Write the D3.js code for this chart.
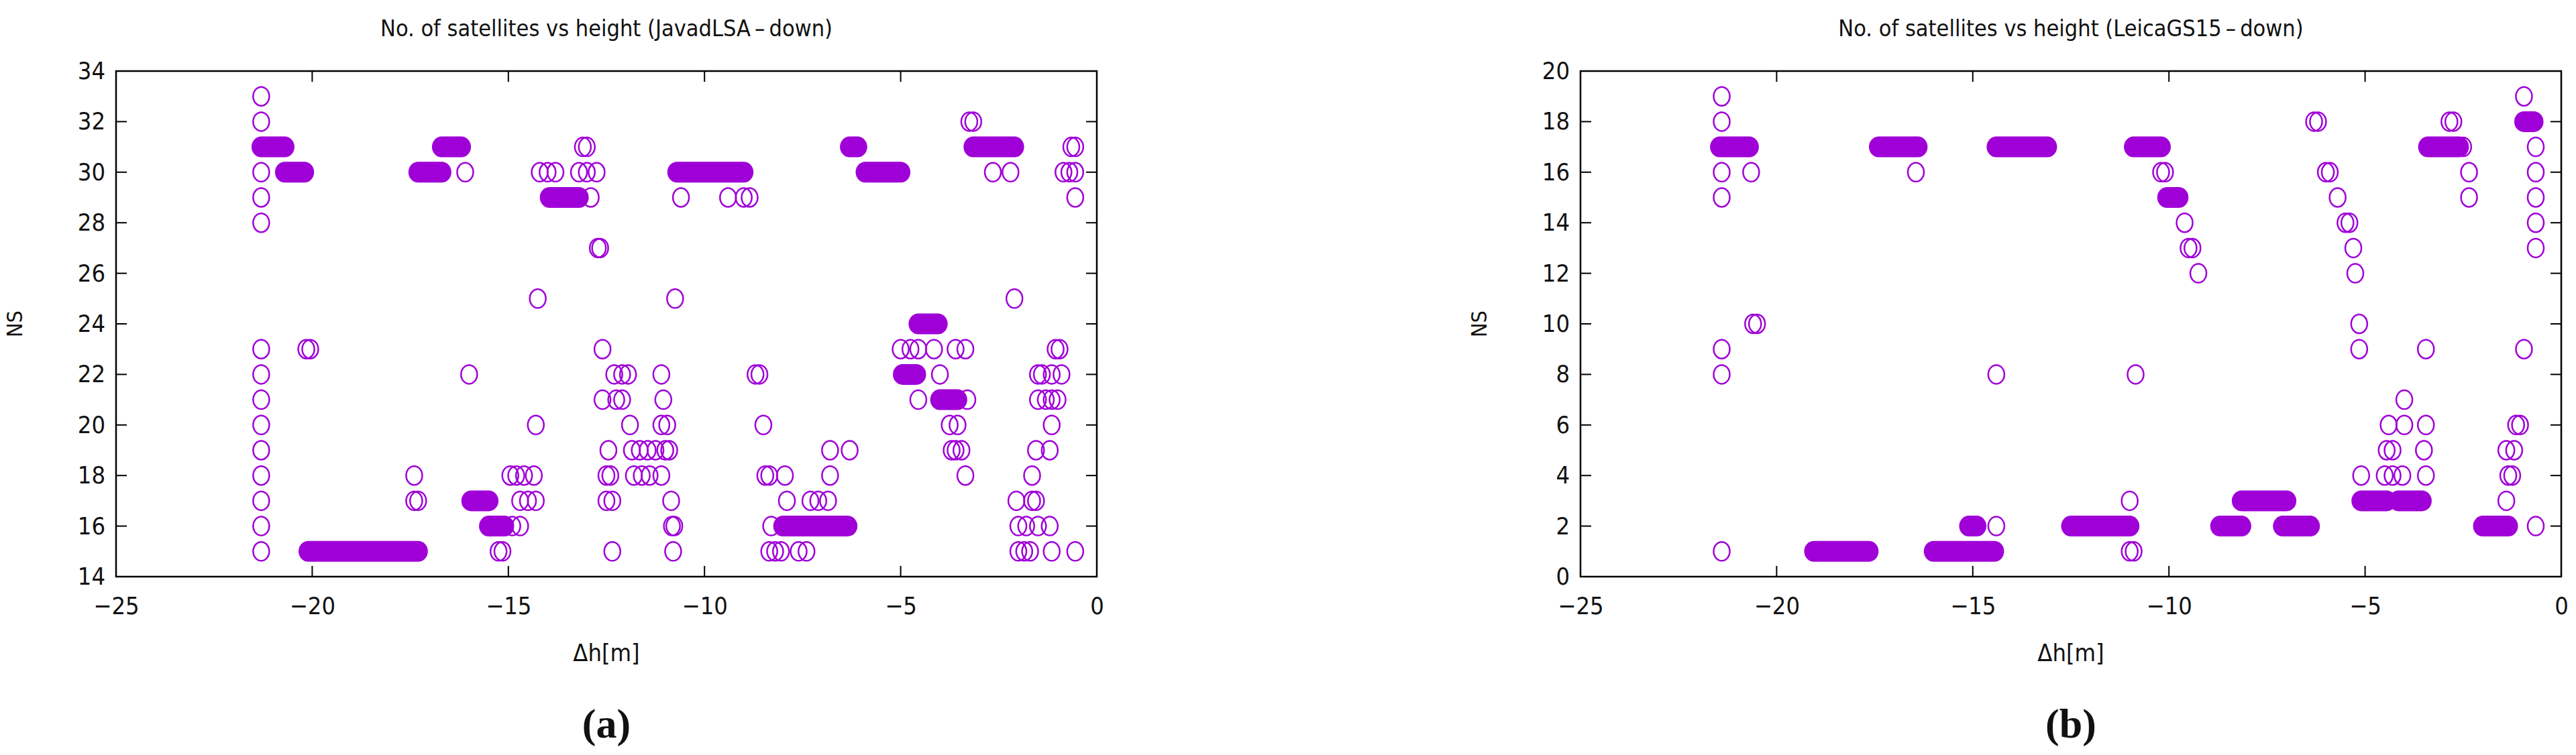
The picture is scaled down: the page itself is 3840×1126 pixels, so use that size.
<!DOCTYPE html>
<html>
<head>
<meta charset="utf-8">
<script src="https://cdn.jsdelivr.net/npm/d3@7"></script>
<style>
body{margin:0;background:#fff;}
text{font-family:"DejaVu Sans Condensed","DejaVu Sans",sans-serif;font-stretch:condensed;fill:#111;}
</style>
</head>
<body>
<svg id="chart" width="3840" height="1126"></svg>
<script>
// tick labels
var xTicks = [-25,-20,-15,-10,-5,0];
var yTicksA = [14,16,18,20,22,24,26,28,30,32,34];
var yTicksB = [0,2,4,6,8,10,12,14,16,18,20];

// single observations [dh, NS] - JavadLSA
var pointsA = [
 [-21.3,33],[-21.3,32],[-21.3,30],[-21.3,29],[-21.3,28],[-21.3,23],[-21.3,22],[-21.3,21],[-21.3,20],[-21.3,19],[-21.3,18],[-21.3,17],[-21.3,16],[-21.3,15],
 [-20.15,23],[-20.05,23],[-17.4,18],[-17.4,17],[-17.3,17],[-16.1,30],[-16.0,22],
 [-14.9,16],[-14.7,16],[-15.25,15],[-15.15,15],
 [-14.95,18],[-14.8,18],[-14.6,18],[-14.35,18],[-14.7,17],[-14.5,17],[-14.3,17],
 [-14.2,30],[-14.0,30],[-13.8,30],[-12.9,29],[-13.1,31],[-13.0,31],[-13.2,30],[-13.0,30],[-12.75,30],
 [-14.3,20],[-14.25,25],[-12.72,27],[-12.66,27],[-12.6,23],
 [-12.3,22],[-12.1,22],[-11.95,22],[-12.6,21],[-12.25,21],[-12.1,21],[-11.9,20],
 [-12.45,19],[-11.85,19],[-11.65,19],[-11.45,19],[-11.25,19],[-11.0,19],[-10.9,19],
 [-12.5,18],[-12.4,18],[-11.8,18],[-11.6,18],[-11.4,18],[-11.1,18],
 [-12.5,17],[-12.35,17],[-10.85,17],[-12.35,15],[-10.8,15],
 [-11.1,22],[-11.05,21],[-11.1,20],[-10.95,20],[-10.83,16],[-10.77,16],[-10.75,25],
 [-10.6,29],[-9.4,29],[-9.0,29],[-8.85,29],[-8.7,22],[-8.6,22],[-8.5,20],
 [-8.45,18],[-8.35,18],[-7.95,18],[-7.9,17],[-7.3,17],[-7.1,17],[-6.85,17],[-8.3,16],
 [-8.35,15],[-8.2,15],[-8.05,15],[-7.6,15],[-7.4,15],[-6.8,19],[-6.3,19],[-6.8,18],
 [-5.0,23],[-4.75,23],[-4.55,23],[-4.15,23],[-3.6,23],[-3.35,23],[-4.0,22],
 [-4.55,21],[-3.3,21],[-3.75,20],[-3.55,20],[-3.7,19],[-3.6,19],[-3.45,19],[-3.35,18],
 [-3.25,32],[-3.15,32],[-2.65,30],[-2.2,30],[-2.1,25],
 [-0.65,31],[-0.55,31],[-0.85,30],[-0.7,30],[-0.55,30],[-0.55,29],[-1.05,23],[-0.95,23],
 [-1.5,22],[-1.4,22],[-1.15,22],[-0.9,22],[-1.5,21],[-1.3,21],[-1.15,21],[-1.0,21],
 [-1.15,20],[-1.55,19],[-1.2,19],[-1.65,18],[-2.05,17],[-1.65,17],[-1.55,17],
 [-2.0,16],[-1.8,16],[-1.5,16],[-1.2,16],[-2.0,15],[-1.85,15],[-1.7,15],[-1.15,15],[-0.55,15]
];
// dense runs of observations [NS, dh from, dh to] - JavadLSA
var runsA = [
 [31,-21.3,-20.7],[30,-20.7,-20.2],[15,-20.1,-17.3],[31,-16.7,-16.2],[30,-17.3,-16.7],
 [17,-15.95,-15.5],[16,-15.5,-15.1],[29,-13.95,-13.2],[30,-10.7,-9.0],[16,-8.0,-6.35],
 [31,-6.3,-6.1],[30,-5.9,-5.0],[24,-4.55,-4.05],[22,-4.95,-4.6],[21,-4.0,-3.55],[31,-3.15,-2.1]
];

// single observations [dh, NS] - LeicaGS15
var pointsB = [
 [-21.4,19],[-21.4,18],[-21.4,16],[-20.65,16],[-21.4,15],[-20.6,10],[-20.5,10],[-21.4,9],[-21.4,8],[-21.4,1],
 [-16.45,16],[-10.2,16],[-10.1,16],[-9.6,14],[-9.5,13],[-9.4,13],[-9.25,12],
 [-14.4,8],[-10.85,8],[-11.0,3],[-11.0,1],[-10.9,1],[-14.4,2],
 [-6.3,18],[-6.2,18],[-6.0,16],[-5.9,16],[-5.7,15],[-5.5,14],[-5.4,14],[-5.3,13],[-5.25,12],[-5.15,10],[-5.15,9],
 [-5.1,4],[-4.5,4],[-4.3,4],[-4.05,4],[-3.45,4],[-4.45,5],[-4.3,5],[-3.5,5],
 [-4.4,6],[-4.0,6],[-3.45,6],[-4.0,7],[-3.45,9],
 [-2.85,18],[-2.75,18],[-2.5,17],[-2.35,16],[-2.35,15],[-0.65,2],
 [-1.4,3],[-1.35,4],[-1.25,4],[-1.4,5],[-1.2,5],[-1.15,6],[-1.05,6],
 [-0.95,9],[-0.95,19],[-0.65,17],[-0.65,16],[-0.65,15],[-0.65,14],[-0.65,13]
];
// dense runs of observations [NS, dh from, dh to] - LeicaGS15
var runsB = [
 [17,-21.45,-20.7],[17,-17.4,-16.4],[17,-14.4,-13.1],[17,-10.9,-10.2],[15,-10.05,-9.75],
 [1,-19.05,-17.65],[1,-16.0,-14.45],[2,-15.1,-14.9],[2,-12.5,-11.0],[2,-8.7,-8.15],
 [3,-8.15,-7.0],[2,-7.1,-6.4],[3,-5.1,-4.45],[3,-4.15,-3.55],[17,-3.4,-2.6],
 [2,-2.0,-1.35],[18,-0.95,-0.7]
];

var purple = "#a000d8";
var svg = d3.select("#chart");

function draw_panel(left, right, yDomain, yTicks, points, runs, title, tag){
  var top = 106, bottom = 860, r = 13;
  var x = d3.scaleLinear().domain([-25,0]).range([left,right]);
  var y = d3.scaleLinear().domain(yDomain).range([bottom,top]);
  var g = svg.append("g");

  // frame
  g.append("rect").attr("x",left).attr("y",top).attr("width",right-left).attr("height",bottom-top)
   .attr("fill","none").attr("stroke","#000").attr("stroke-width",2.5);

  var ax = g.append("g").attr("transform","translate(0,"+bottom+")")
    .call(d3.axisBottom(x).tickValues(xTicks).tickSize(0).tickPadding(30).tickFormat(d3.format("d")));
  var ay = g.append("g").attr("transform","translate("+left+",0)")
    .call(d3.axisLeft(y).tickValues(yTicks).tickSize(0).tickPadding(16).tickFormat(d3.format("d")));
  [ax,ay].forEach(function(a){
    a.select(".domain").remove();
    a.selectAll("text").style("font-size","36px").attr("fill","#111");
  });
  // inward ticks on all four sides
  xTicks.slice(1,-1).forEach(function(t){
    g.append("line").attr("x1",x(t)).attr("x2",x(t)).attr("y1",bottom).attr("y2",bottom-16).attr("stroke","#000").attr("stroke-width",2);
    g.append("line").attr("x1",x(t)).attr("x2",x(t)).attr("y1",top).attr("y2",top+16).attr("stroke","#000").attr("stroke-width",2);
  });
  yTicks.slice(1,-1).forEach(function(t){
    g.append("line").attr("x1",left).attr("x2",left+16).attr("y1",y(t)).attr("y2",y(t)).attr("stroke","#000").attr("stroke-width",2);
    g.append("line").attr("x1",right).attr("x2",right-16).attr("y1",y(t)).attr("y2",y(t)).attr("stroke","#000").attr("stroke-width",2);
  });

  g.selectAll("rect.run").data(runs).enter().append("rect").attr("class","run")
   .attr("x",function(d){return x(d[1])-r-1.5;})
   .attr("y",function(d){return y(d[0])-r-2.5;})
   .attr("width",function(d){return x(d[2])-x(d[1])+2*r+3;})
   .attr("height",2*r+5).attr("rx",r+1.5).attr("ry",r+2.5)
   .attr("fill",purple);

  g.selectAll("ellipse.pt").data(points).enter().append("ellipse").attr("class","pt")
   .attr("cx",function(d){return x(d[0]);})
   .attr("cy",function(d){return y(d[1]);})
   .attr("rx",r-1).attr("ry",r+1)
   .attr("fill","none").attr("stroke",purple).attr("stroke-width",2.5);

  var cx = (left+right)/2;
  g.append("text").attr("x",cx).attr("y",54).attr("text-anchor","middle").style("font-size","34px").text(title);
  g.append("text").attr("x",cx).attr("y",986).attr("text-anchor","middle").style("font-size","36px").text("Δh[m]");
  g.append("text").attr("transform","translate("+(left-140)+","+((top+bottom)/2)+") rotate(-90)")
   .attr("text-anchor","middle").style("font-size","32px").style("font-stretch","normal").text("NS");
  g.append("text").attr("x",cx).attr("y",1100).attr("text-anchor","middle")
   .style("font-family","'Liberation Serif',serif").style("font-weight","bold").style("font-size","62px").text(tag);
}

draw_panel(173, 1635, [14,34], yTicksA, pointsA, runsA, "No. of satellites vs height (JavadLSA\u2009\u2013\u2009down)", "(a)");
draw_panel(2356, 3818, [0,20], yTicksB, pointsB, runsB, "No. of satellites vs height (LeicaGS15\u2009\u2013\u2009down)", "(b)");
</script>
</body>
</html>
